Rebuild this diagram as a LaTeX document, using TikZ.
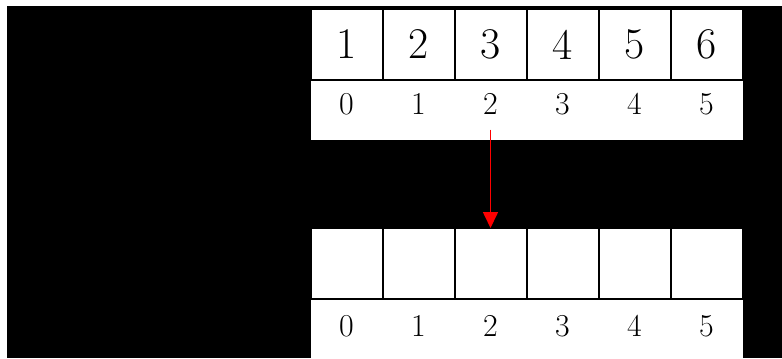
\documentclass[tikz,border=0pt]{standalone}
\usetikzlibrary{arrows.meta}
\begin{document}
\begin{tikzpicture}[x=1bp,y=-1bp,
  cellbox/.style={draw=black, fill=white, line width=2bp, minimum width=72bp, minimum height=71bp, inner sep=0pt, outer sep=0pt, font=\fontsize{44}{44}\selectfont},
  idxstrip/.style={fill=white, minimum width=72bp, minimum height=60bp, inner sep=0pt, outer sep=0pt},
  idxlabel/.style={inner sep=2bp, font=\fontsize{32}{32}\selectfont},
  movearrow/.style={draw=red, line width=1.6bp, -{Triangle[width=15bp,length=16bp]}}]
\useasboundingbox (0,0) rectangle (782,358);
\fill[white] (0,0) rectangle (782,358);
\fill[black] (7,6) rectangle (782,358);
% index strips
\foreach \i in {0,...,5} {
  \node[idxstrip] (ts\i) at ({346.5+72*\i},110) {};
  \node[idxstrip] (bs\i) at ({346.5+72*\i},329) {};
}
% cells
\foreach \i [evaluate=\i as \v using int(\i+1)] in {0,...,5} {
  \node[cellbox] (t\i) at ({346.5+72*\i},44.5) {\v};
  \node[cellbox] (b\i) at ({346.5+72*\i},263.5) {};
}
% index labels
\foreach \i in {0,...,5} {
  \node[idxlabel] (ti\i) at ({346.5+72*\i},104) {\i};
  \node[idxlabel] (bi\i) at ({346.5+72*\i},326) {\i};
}
\draw[movearrow] ([yshift=-13bp]ti2.south) -- (b2.north);
\end{tikzpicture}
\end{document}
